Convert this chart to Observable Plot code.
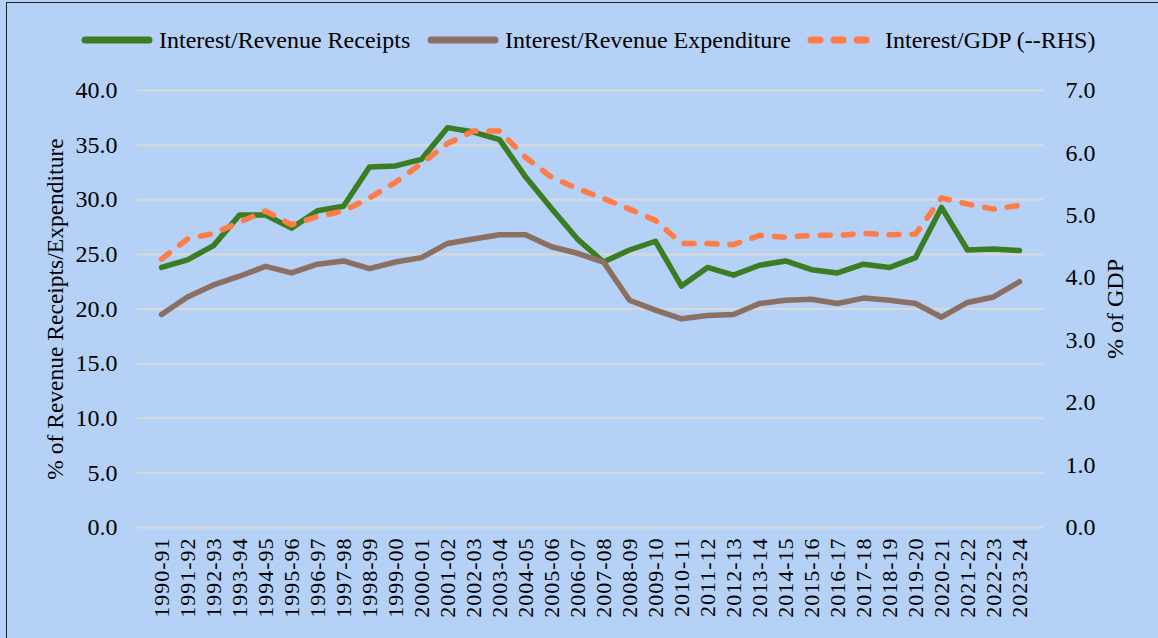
<!DOCTYPE html>
<html><head><meta charset="utf-8">
<script src="https://cdn.jsdelivr.net/npm/d3@7"></script>
<script src="https://cdn.jsdelivr.net/npm/@observablehq/plot@0.6"></script>
<style>
html,body{margin:0;padding:0;background:#b5d1f6;overflow:hidden;width:1158px;height:638px;}
#frame{position:absolute;left:6px;top:2px;width:1300px;height:800px;border:1.5px solid #222;pointer-events:none;}
#legend{position:relative;height:60px;font-family:"Liberation Serif",serif;font-size:24px;color:#000;}
.item{position:absolute;top:26px;height:28px;display:flex;align-items:center;white-space:nowrap;}
.item svg{margin-right:6px;}
#chart svg{display:block;}
</style></head>
<body>
<div id="frame"></div>
<div id="legend"></div>
<div id="chart"></div>
<script>
const years = ["1990-91","1991-92","1992-93","1993-94","1994-95","1995-96","1996-97","1997-98","1998-99","1999-00","2000-01","2001-02","2002-03","2003-04","2004-05","2005-06","2006-07","2007-08","2008-09","2009-10","2010-11","2011-12","2012-13","2013-14","2014-15","2015-16","2016-17","2017-18","2018-19","2019-20","2020-21","2021-22","2022-23","2023-24"];
const receipts = [23.8,24.5,25.8,28.6,28.6,27.4,29.0,29.4,33.0,33.1,33.7,36.6,36.2,35.5,32.1,29.2,26.4,24.3,25.4,26.2,22.1,23.8,23.1,24.0,24.4,23.6,23.3,24.1,23.8,24.7,29.3,25.4,25.5,25.35];
const expenditure = [19.5,21.1,22.2,23.0,23.9,23.3,24.1,24.4,23.7,24.3,24.7,26.0,26.4,26.8,26.8,25.7,25.1,24.3,20.8,19.9,19.1,19.4,19.5,20.5,20.8,20.9,20.5,21.0,20.8,20.5,19.25,20.6,21.1,22.5];
const gdp = [4.30,4.62,4.71,4.89,5.07,4.85,4.98,5.07,5.28,5.53,5.83,6.15,6.35,6.35,5.93,5.61,5.43,5.27,5.10,4.92,4.55,4.55,4.53,4.68,4.65,4.68,4.68,4.71,4.69,4.70,5.28,5.18,5.10,5.16];
const leftTicks = [0,5,10,15,20,25,30,35,40];
const rightTicks = [0,1,2,3,4,5,6,7];
const seriesNames = ["Interest/Revenue Receipts","Interest/Revenue Expenditure","Interest/GDP (--RHS)"];
const colors = ["#3b7d23","#8b6f62","#ff7b47"];
const leftTitle = "% of Revenue Receipts/Expenditure";
const rightTitle = "% of GDP";

const ratio = 40 / 7; // right axis 0-7 maps to left 0-40
const rows = years.map((y, i) => ({year: y, receipts: receipts[i], expenditure: expenditure[i], gdp: gdp[i], gdpScaled: gdp[i] * ratio}));

// legend
const legend = document.getElementById("legend");
const lefts = [81, 427, 807];
seriesNames.forEach((name, i) => {
  const item = document.createElement("div");
  item.className = "item";
  item.style.left = lefts[i] + "px";
  const dashed = i === 2;
  const w = dashed ? 66 : 72;
  item.innerHTML = `<svg width="${w}" height="12"><line x1="4" y1="6" x2="${w-4}" y2="6" stroke="${colors[i]}" stroke-width="7" stroke-linecap="round" ${dashed ? 'stroke-dasharray="9,14"' : ''}/></svg><span>${name}</span>`;
  if (dashed) item.querySelector("svg").style.marginRight = "12px";
  legend.appendChild(item);
});

const chart = Plot.plot({
  width: 1158,
  height: 578,
  marginTop: 30,
  marginBottom: 111,
  marginLeft: 137,
  marginRight: 115,
  style: {background: "transparent", fontFamily: "'Liberation Serif', serif", fontSize: "24px", color: "#000"},
  x: {type: "point", domain: years, padding: 0.5},
  y: {domain: [0, 40]},
  marks: [
    Plot.ruleY(leftTicks, {stroke: "#d9d9d9", strokeWidth: 2}),
    Plot.axisY(leftTicks, {anchor: "left", tickSize: 0, tickPadding: 20, tickFormat: d => d.toFixed(1), label: null, fontSize: 24}),
    Plot.axisY(rightTicks.map(d => d * ratio), {anchor: "right", tickSize: 0, tickPadding: 22, tickFormat: d => (d / ratio).toFixed(1), label: null, fontSize: 24}),
    Plot.axisX({tickRotate: -90, tickSize: 0, tickPadding: 10, label: null, fontSize: 22}),
    Plot.line(rows, {x: "year", y: "receipts", stroke: colors[0], strokeWidth: 5.5, strokeLinejoin: "round", strokeLinecap: "round"}),
    Plot.line(rows, {x: "year", y: "expenditure", stroke: colors[1], strokeWidth: 5.5, strokeLinejoin: "round", strokeLinecap: "round"}),
    Plot.line(rows, {x: "year", y: "gdpScaled", stroke: colors[2], strokeWidth: 5.5, strokeDasharray: "10,13", strokeLinecap: "round", strokeLinejoin: "round"}),
    Plot.text([leftTitle], {frameAnchor: "left", dx: -82, rotate: -90, text: d => d, textAnchor: "middle", fontSize: 23.5, fill: "#000"}),
    Plot.text([rightTitle], {frameAnchor: "right", dx: 72, rotate: -90, text: d => d, textAnchor: "middle", fontSize: 24, fill: "#000"})
  ]
});
document.getElementById("chart").appendChild(chart);
chart.querySelectorAll('[aria-label="x-axis tick label"] text').forEach(t => t.style.letterSpacing = "1px");
</script>
</body></html>
